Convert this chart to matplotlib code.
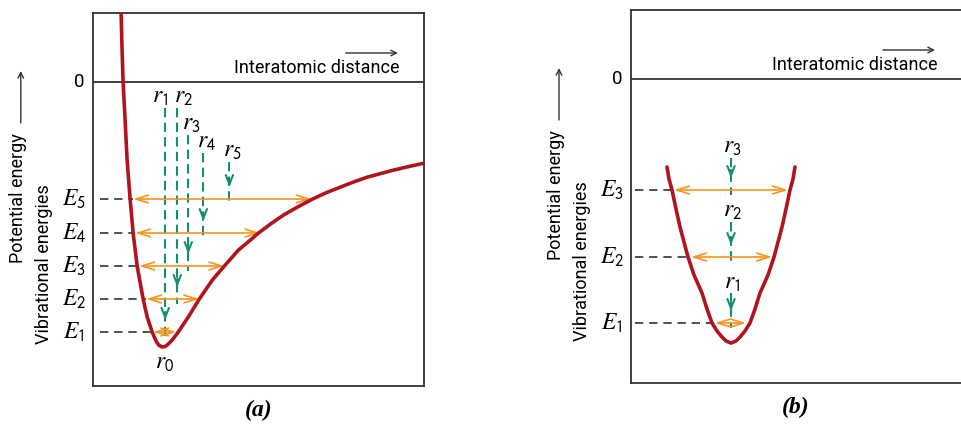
import numpy as np
import matplotlib.pyplot as plt

plt.rcParams['mathtext.fontset'] = 'stix'
plt.rcParams['font.family'] = ['Roboto', 'DejaVu Sans']

RED = '#b0141c'
ORANGE = '#f7941d'
GREEN = '#13906f'
DARK = '#333333'

# (a) asymmetric well
curve_a_x = [28, 29, 30, 32, 34, 37, 40, 44, 50, 54, 59, 62, 64, 66, 69, 72, 74,
             79, 85, 95, 106, 119, 131, 145, 157, 165, 177, 190, 204, 219, 233,
             247, 261, 274, 287, 300, 315, 331]
curve_a_y = [69, 32, 0, -38, -78, -117, -151, -184, -217, -235, -250, -257, -261,
             -263.5, -265, -264.5, -263, -258, -250, -235, -217, -198, -184, -168,
             -158, -151, -142, -133, -125, -117, -110.5, -105, -99.5, -95, -91.5,
             -88, -84.5, -81]
levels_a = [-250, -217, -184, -151, -117]
left_a = [60, 53, 46, 42, 40]
right_a = [83, 106, 131, 167, 218]
r_x_a = [72, 84, 95, 110, 136]
r_top_a = [-26, -26, -53, -71, -80]
r0_a = (69, -265)

# (b) symmetric well
curve_b_x = [36, 38, 41, 45, 49, 53, 57, 63, 71, 76, 81, 86, 91, 95, 100, 105,
             109, 114, 119, 124, 129, 137, 143, 147, 151, 155, 159, 162, 164]
curve_b_y = [-88, -100, -111, -130, -148, -163, -178, -196, -214, -230, -244,
             -252, -258, -262, -264, -262, -258, -252, -244, -230, -214, -196,
             -178, -163, -148, -130, -111, -100, -88]
levels_b = [-244, -178, -111]
left_b = [84, 60, 43]
right_b = [115, 141, 157]
r_x_b = [100, 100, 100]
r_top_b = [-214, -143, -79]


def draw_panel(ax, cx, cy, levels, lefts, rights, r_x, r_top, dash_x, r_dx, tag):
    ax.set_xlim(0, 330)
    ax.set_ylim(-304, 69)
    ax.set_xticks([])
    ax.set_yticks([])
    for s in ax.spines.values():
        s.set_color(DARK)
        s.set_linewidth(1.3)
    ax.axhline(0, color=DARK, lw=1.3)
    ax.text(-14, 0, '0', ha='center', va='center', fontsize=13.5)

    for i, lev in enumerate(levels):
        ax.plot([dash_x, lefts[i]], [lev, lev], color=DARK, lw=1.2, ls=(0, (5, 3.5)))
        ax.annotate('', xy=(lefts[i], lev), xytext=(rights[i], lev),
                    arrowprops=dict(arrowstyle='<->,head_length=0.9,head_width=0.28',
                                    color=ORANGE, lw=1.2, shrinkA=0, shrinkB=0,
                                    mutation_scale=10))
        ax.text(-19, lev, r'$E_{\mathsf{%d}}$' % (i + 1), ha='center', va='center',
                fontsize=17, clip_on=False)
        ax.plot([r_x[i], r_x[i]], [r_top[i], lev - 5], color=GREEN, lw=1.5,
                ls=(0, (4.5, 2.5)))
        ax.annotate('', xy=(r_x[i], lev + 12), xytext=(r_x[i], lev + 20),
                    arrowprops=dict(arrowstyle='->,head_length=0.55,head_width=0.22',
                                    color=GREEN, lw=1.5, shrinkA=0, shrinkB=0,
                                    mutation_scale=12))
        ax.text(r_x[i] + r_dx[i], r_top[i] + 11, r'$r_{\mathsf{%d}}$' % (i + 1),
                ha='center', va='center', fontsize=17)

    ax.plot(cx, cy, color=RED, lw=2.6, solid_capstyle='round',
            solid_joinstyle='round', zorder=5)

    ax.text(306, 14, 'Interatomic distance', ha='right', va='center', fontsize=13)
    ax.annotate('', xy=(304, 29), xytext=(252, 29),
                arrowprops=dict(arrowstyle='->', color=DARK, lw=1.0, shrinkA=0,
                                shrinkB=0))
    ax.annotate('', xy=(-72, 11), xytext=(-72, -41), annotation_clip=False,
                arrowprops=dict(arrowstyle='->', color=DARK, lw=1.0, shrinkA=0,
                                shrinkB=0))
    ax.text(-75, -116, 'Potential energy', rotation=90, ha='center', va='center',
            fontsize=13, clip_on=False)
    ax.text(-49, -182, 'Vibrational energies', rotation=90, ha='center',
            va='center', fontsize=13, clip_on=False)
    ax.text(165, -328, tag, ha='center', va='center', fontsize=17,
            family='Liberation Serif', weight='bold', style='italic',
            clip_on=False)


fig = plt.figure(figsize=(9.61, 4.24), dpi=100)
ax_a = fig.add_axes([93 / 961, 38 / 424, 331 / 961, 373 / 424])
ax_b = fig.add_axes([631 / 961, 41 / 424, 330 / 961, 373 / 424])
ax_b.spines['right'].set_visible(False)

draw_panel(ax_a, curve_a_x, curve_a_y, levels_a, left_a, right_a, r_x_a, r_top_a,
           7, [-5, 6, 3, 3, 3], '(a)')
ax_a.text(r0_a[0] + 2, r0_a[1] - 16, r'$r_{\mathsf{0}}$', ha='center', va='center',
          fontsize=17)

draw_panel(ax_b, curve_b_x, curve_b_y, levels_b, left_b, right_b, r_x_b, r_top_b,
           4, [1, 1, 1], '(b)')

fig.savefig('out.png', dpi=100)
